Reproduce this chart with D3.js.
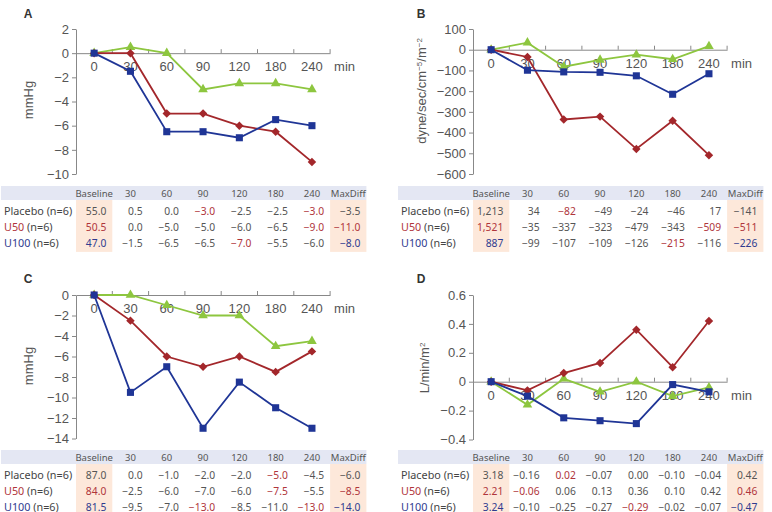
<!DOCTYPE html>
<html>
<head>
<meta charset="utf-8">
<script src="https://cdn.jsdelivr.net/npm/d3@7"></script>
<style>
  body { margin: 0; background: #fff; }
  svg { display: block; }
  .axis text { font-family: "Liberation Sans", Arial, sans-serif; font-size: 13px; fill: #555; }
  .axis path, .axis line { stroke: #888; }
  .tbl text { font-family: "Noto Sans", sans-serif; }
</style>
</head>
<body>
<div id="chart"></div>
<script>
// ---- shared categories ----
var times = ["0", "30", "60", "90", "120", "180", "240"];
var cols = ["Baseline", "30", "60", "90", "120", "180", "240", "MaxDiff"];
var groups = ["Placebo", "U50", "U100"];

// ---- panel A (mmHg) ----
var aPlacebo = [0, 0.5, 0.0, -3.0, -2.5, -2.5, -3.0];
var aU50     = [0, 0.0, -5.0, -5.0, -6.0, -6.5, -9.0];
var aU100    = [0, -1.5, -6.5, -6.5, -7.0, -5.5, -6.0];
var aBaseline = [55.0, 50.5, 47.0];
var aMaxDiff  = [-3.5, -11.0, -8.0];
var aRed = [[3, 6], [6], [4]];   // highlighted cells (index into times)
var aTicks = [2, 0, -2, -4, -6, -8, -10];

// ---- panel B (dyne/sec/cm-5/m-2) ----
var bPlacebo = [0, 34, -82, -49, -24, -46, 17];
var bU50     = [0, -35, -337, -323, -479, -343, -509];
var bU100    = [0, -99, -107, -109, -126, -215, -116];
var bBaseline = [1213, 1521, 887];
var bMaxDiff  = [-141, -511, -226];
var bRed = [[2], [6], [5]];
var bTicks = [100, 0, -100, -200, -300, -400, -500, -600];

// ---- panel C (mmHg) ----
var cPlacebo = [0, 0.0, -1.0, -2.0, -2.0, -5.0, -4.5];
var cU50     = [0, -2.5, -6.0, -7.0, -6.0, -7.5, -5.5];
var cU100    = [0, -9.5, -7.0, -13.0, -8.5, -11.0, -13.0];
var cBaseline = [87.0, 84.0, 81.5];
var cMaxDiff  = [-6.0, -8.5, -14.0];
var cRed = [[5], [5], [3, 6]];
var cTicks = [0, -2, -4, -6, -8, -10, -12, -14];

// ---- panel D (L/min/m2) ----
var dPlacebo = [0, -0.16, 0.02, -0.07, 0.00, -0.10, -0.04];
var dU50     = [0, -0.06, 0.06, 0.13, 0.36, 0.10, 0.42];
var dU100    = [0, -0.10, -0.25, -0.27, -0.29, -0.02, -0.07];
var dBaseline = [3.18, 2.21, 3.24];
var dMaxDiff  = [0.42, 0.46, -0.47];
var dRed = [[2], [1], [4]];
var dTicks = [0.6, 0.4, 0.2, 0, -0.2, -0.4];

var W = 772, H = 512;
var colors = ["#8dc63f", "#a3272b", "#1f3596"];
var textCol = ["#555", "#b0353b", "#2f3b8f"];
var symbols = [d3.symbolTriangle, d3.symbolSquare, d3.symbolSquare];
var bw = 36.3;

var svg = d3.select("#chart").append("svg")
    .attr("width", W)
    .attr("height", H);

var panels = [
  { id: "A", x0: 76, lx: 28, ly: 14, yDomain: [2, -10], yRange: [29, 174], ticks: aTicks,
    series: [aPlacebo, aU50, aU100], base: aBaseline, maxd: aMaxDiff, red: aRed,
    fmt: ".1f", baseFmt: ".1f", headTop: 186, title: ["mmHg"], tx: 33, ty: 100 },
  { id: "B", x0: 473, lx: 421, ly: 14, yDomain: [100, -600], yRange: [29, 174], ticks: bTicks,
    series: [bPlacebo, bU50, bU100], base: bBaseline, maxd: bMaxDiff, red: bRed,
    fmt: "d", baseFmt: ",d", headTop: 186, title: ["dyne/sec/cm", "\u22125", "/m", "\u22122"], tx: 426, ty: 91 },
  { id: "C", x0: 76, lx: 28, ly: 279, yDomain: [0, -14], yRange: [295, 438.5], ticks: cTicks,
    series: [cPlacebo, cU50, cU100], base: cBaseline, maxd: cMaxDiff, red: cRed,
    fmt: ".1f", baseFmt: ".1f", headTop: 450, title: ["mmHg"], tx: 33, ty: 366 },
  { id: "D", x0: 473, lx: 421, ly: 279, yDomain: [0.6, -0.4], yRange: [295, 439.5], ticks: dTicks,
    series: [dPlacebo, dU50, dU100], base: dBaseline, maxd: dMaxDiff, red: dRed,
    fmt: ".2f", baseFmt: ".2f", headTop: 450, title: ["L/min/m", "2"], tx: 429, ty: 368 }
];

panels.forEach(drawPanel);

function drawPanel(p) {
  var g = svg.append("g");

  var x = d3.scaleBand().domain(times).range([p.x0, p.x0 + bw * times.length]);
  var xc = d3.scaleBand().domain(cols).range([p.x0, p.x0 + bw * cols.length]);
  var y = d3.scaleLinear().domain(p.yDomain).range(p.yRange);

  // panel letter
  g.append("text")
      .attr("x", p.lx).attr("y", p.ly + 4)
      .attr("text-anchor", "middle")
      .style("font-family", "Liberation Sans, Arial, sans-serif")
      .style("font-weight", "bold").style("font-size", "12px").style("fill", "#333")
      .text(p.id);

  // y axis
  g.append("g")
      .attr("class", "axis")
      .attr("transform", "translate(" + p.x0 + ",0)")
      .call(d3.axisLeft(y).tickValues(p.ticks).tickSize(4).tickSizeOuter(0).tickPadding(3)
        .tickFormat(d3.format("~g")));

  // x axis at zero line
  var y0 = y(0);
  var xa = g.append("g")
      .attr("class", "axis")
      .attr("transform", "translate(0," + y0 + ")")
      .call(d3.axisBottom(x).tickSize(0).tickSizeOuter(0).tickPadding(9));
  xa.selectAll(".tick text").attr("dy", "0.71em");
  xa.selectAll(".bound").data(times)
    .enter().append("line")
      .attr("x1", function(d) { return x(d) + x.bandwidth(); })
      .attr("x2", function(d) { return x(d) + x.bandwidth(); })
      .attr("y1", 0).attr("y2", -4)
      .attr("stroke", "#888");
  xa.append("text")
      .attr("x", x.range()[1] + 4).attr("y", 9).attr("dy", "0.71em")
      .attr("text-anchor", "start")
      .text("min");

  // axis title
  var t = g.append("text")
      .attr("transform", "translate(" + p.tx + "," + p.ty + ") rotate(-90)")
      .attr("text-anchor", "middle")
      .style("font-family", "Liberation Sans, Arial, sans-serif")
      .style("font-size", "13px").style("fill", "#555");
  p.title.forEach(function(s, i) {
    var ts = t.append("tspan").text(s);
    if (i % 2 == 1) ts.attr("baseline-shift", "super").style("font-size", "8px");
  });

  // lines + markers
  var line = d3.line()
      .x(function(d, i) { return x(times[i]) + x.bandwidth() / 2; })
      .y(function(d) { return y(d); });

  p.series.forEach(function(s, k) {
    g.append("path")
        .datum(s)
        .attr("fill", "none")
        .attr("stroke", colors[k])
        .attr("stroke-width", 1.8)
        .attr("d", line);
    g.selectAll(".m" + k).data(s)
      .enter().append("path")
        .attr("class", "m" + k)
        .attr("transform", function(d, i) {
          return "translate(" + (x(times[i]) + x.bandwidth() / 2) + "," + y(d) + ")" + (k == 1 ? " rotate(45)" : "");
        })
        .attr("d", d3.symbol().type(symbols[k]).size(k == 0 ? 40 : (k == 1 ? 36 : 50)))
        .attr("fill", colors[k]);
  });

  // table
  var tb = g.append("g").attr("class", "tbl");
  var left = p.x0 - 75, right = xc.range()[1];
  var top = p.headTop, rowH = 16.3;
  tb.append("rect")
      .attr("x", left).attr("y", top)
      .attr("width", right - left).attr("height", 14)
      .attr("fill", "#e4e7f3");
  ["Baseline", "MaxDiff"].forEach(function(c) {
    tb.append("rect")
        .attr("x", xc(c)).attr("y", top + 14)
        .attr("width", xc.bandwidth()).attr("height", rowH * 3 + 3)
        .attr("fill", "#fde8da");
  });
  tb.selectAll(".hd").data(cols)
    .enter().append("text")
      .attr("x", function(d) { return xc(d) + xc.bandwidth() / 2; })
      .attr("y", top + 10.5)
      .attr("text-anchor", "middle")
      .style("font-size", "9.5px").style("fill", "#555")
      .text(function(d) { return d; });

  var fv = d3.format(p.fmt), fb = d3.format(p.baseFmt);
  groups.forEach(function(gr, r) {
    var ry = top + 25 + r * rowH + 3.5;
    var lab = tb.append("text")
        .attr("x", left + 3).attr("y", ry)
        .style("font-size", "10.8px");
    lab.append("tspan").text(gr).style("fill", r == 0 ? "#444" : textCol[r]);
    lab.append("tspan").text(" (n=6)").style("fill", "#444");

    var cells = [fb(p.base[r])]
        .concat(p.series[r].slice(1).map(fv))
        .concat([fv(p.maxd[r])]);
    tb.selectAll(".r" + r).data(cells)
      .enter().append("text")
        .attr("x", function(d, i) { return xc(cols[i]) + xc.bandwidth() - 6; })
        .attr("y", ry)
        .attr("text-anchor", "end")
        .style("font-size", "10.3px")
        .style("fill", function(d, i) {
          if (i == 0 || i == cols.length - 1) return r == 0 ? "#555" : textCol[r];
          return p.red[r].indexOf(i) >= 0 ? textCol[1] : "#555";
        })
        .text(function(d) { return d; });
  });
}
</script>
</body>
</html>
